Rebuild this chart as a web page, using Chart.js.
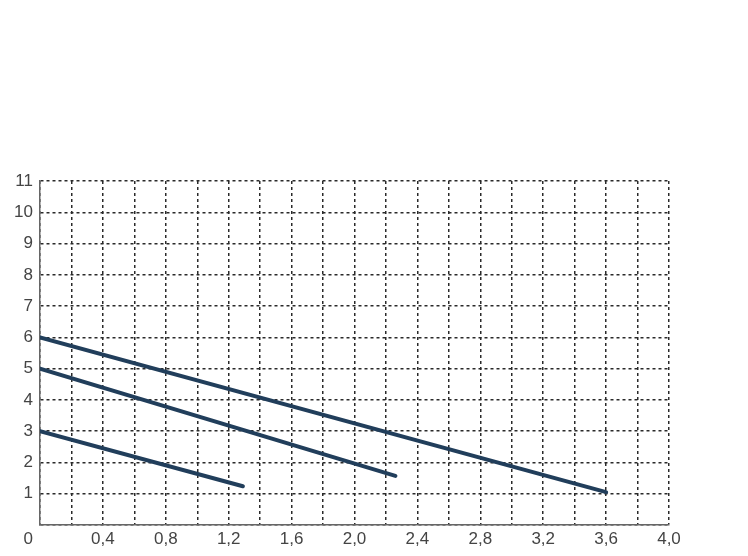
<!DOCTYPE html>
<html>
<head>
<meta charset="utf-8">
<script src="https://cdn.jsdelivr.net/npm/chart.js@4/dist/chart.umd.min.js"></script>
<style>
  html, body { margin: 0; padding: 0; background: #fff; }
  #wrap { width: 748px; height: 556px; }
</style>
</head>
<body>
<div id="wrap"><canvas id="c" width="748" height="556"></canvas></div>
<script>
// Series (x = flow, y = head)
const curveHigh = [{x: 0, y: 6.0}, {x: 3.6, y: 1.05}];
const curveMid  = [{x: 0, y: 5.0}, {x: 2.26, y: 1.57}];
const curveLow  = [{x: 0, y: 3.0}, {x: 1.29, y: 1.24}];

// Tick labels
const xTickValues = [0, 0.2, 0.4, 0.6, 0.8, 1.0, 1.2, 1.4, 1.6, 1.8, 2.0, 2.2, 2.4, 2.6, 2.8, 3.0, 3.2, 3.4, 3.6, 3.8, 4.0];
const xTickLabels = ['0\u0020\u0020\u0020\u0020\u0020', '', '0,4', '', '0,8', '', '1,2', '', '1,6', '', '2,0', '', '2,4', '', '2,8', '', '3,2', '', '3,6', '', '4,0'];
const yTickLabels = ['', '1', '2', '3', '4', '5', '6', '7', '8', '9', '10', '11'];

const lineColor = '#213e5b';
const gridColor = '#2a2a2a';
const tickFont = { family: '"Liberation Sans", Arial, sans-serif', size: 17 };

new Chart(document.getElementById('c'), {
  type: 'line',
  data: {
    datasets: [
      { data: curveHigh },
      { data: curveMid },
      { data: curveLow }
    ].map(d => Object.assign(d, {
      borderColor: lineColor,
      borderWidth: 4,
      borderCapStyle: 'round',
      pointRadius: 0,
      fill: false,
      tension: 0
    }))
  },
  options: {
    responsive: false,
    animation: false,
    devicePixelRatio: 1,
    layout: { padding: { left: 0, right: 79, top: 181, bottom: 0 } },
    plugins: { legend: { display: false }, tooltip: { enabled: false } },
    scales: {
      x: {
        type: 'linear',
        min: 0, max: 4,
        afterBuildTicks: (scale) => { scale.ticks = xTickValues.map(v => ({ value: v })); },
        afterFit: (scale) => { scale.height = 31; },
        ticks: {
          autoSkip: false,
          maxRotation: 0,
          padding: 4,
          color: '#444',
          font: tickFont,
          callback: (v, i) => xTickLabels[i]
        },
        grid: { color: gridColor, lineWidth: 1.5, drawTicks: false },
        border: { display: true, color: '#666', width: 1.5, dash: [3, 3] }
      },
      y: {
        type: 'linear',
        min: 0, max: 11,
        afterBuildTicks: (scale) => { scale.ticks = yTickLabels.map((t, i) => ({ value: i })); },
        afterFit: (scale) => { scale.width = 40; },
        ticks: {
          autoSkip: false,
          padding: 7,
          color: '#444',
          font: tickFont,
          callback: (v, i) => yTickLabels[i]
        },
        grid: { color: gridColor, lineWidth: 1.5, drawTicks: false },
        border: { display: true, color: '#666', width: 1.5, dash: [3, 3] }
      }
    }
  }
});
</script>
</body>
</html>
